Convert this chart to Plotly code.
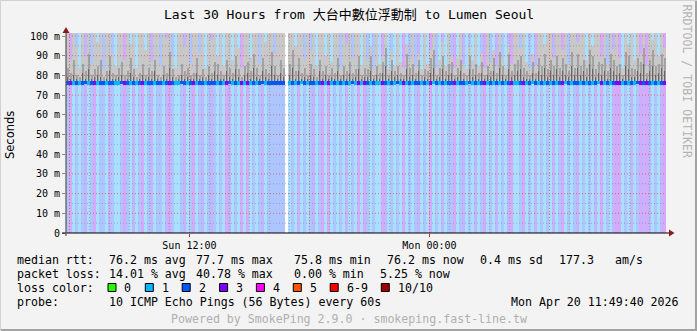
import plotly.graph_objects as go
from datetime import datetime

# ---------------- data ----------------
title_text = "Last 30 Hours from 大台中數位浮動制 to Lumen Seoul"
t_start = datetime(2026, 4, 19, 5, 49, 40)
t_end = datetime(2026, 4, 20, 11, 49, 40)

# packet loss class per 9-minute column (0 = no data)
loss_codes = [int(c) for c in (
    "2412123124" "1221321124" "2131241231" "2213421123" "1241231232"
    "1214312141" "4121231222" "2220121312" "1231241412" "1213121414"
    "2121143121" "2141212312" "1412131224" "1231213124" "1213121341"
    "1241213121" "2131241212" "3121213141" "2134412131" "2434312134")]

median_ms = [
    76.2, 76.1, 76.3, 76.2, 76.0, 76.2, 76.4, 76.2, 76.1, 76.3,
    76.2, 76.2, 76.0, 76.1, 76.3, 76.2, 76.1, 76.2, 76.4, 76.2,
    76.1, 76.2, 76.3, 76.0, 76.2, 76.2, 76.1, 76.3, 76.2, 76.1,
    76.2, 76.0, 76.2, 76.3, 76.2, 76.1, 76.2, 76.2, 76.4, 76.1,
    76.2, 76.3, 76.1, 76.2, 76.0, 76.2, 76.2, 76.3, 76.1, 76.2,
    76.3, 76.2, 76.1, 76.2, 76.4, 76.2, 76.1, 76.3, 76.2, 76.0,
    76.2, 76.1, 76.3, 76.2, 76.2, 76.4, 76.1, 76.2, 76.3, 76.2,
    76.1, 76.2, 76.2, None, 76.3, 76.2, 76.1, 76.2, 76.4, 76.2,
    76.0, 76.2, 76.3, 76.1, 76.2, 76.2, 76.3, 76.1, 76.2, 76.0,
    76.2, 76.3, 76.2, 76.1, 76.2, 76.4, 76.2, 76.1, 76.3, 76.2,
    76.1, 76.2, 76.3, 76.2, 76.0, 76.2, 76.3, 76.1, 76.2, 76.2,
    76.4, 76.2, 76.1, 76.3, 76.2, 76.0, 76.2, 76.2, 76.3, 76.1,
    76.2, 76.2, 76.4, 76.1, 76.2, 76.3, 76.2, 76.0, 76.2, 76.1,
    76.3, 76.2, 76.2, 76.1, 76.4, 76.2, 76.0, 76.2, 76.3, 76.2,
    76.1, 76.2, 76.3, 76.2, 76.2, 76.0, 76.3, 76.2, 76.1, 76.2,
    76.2, 76.3, 76.1, 76.2, 76.2, 76.4, 76.1, 76.2, 76.3, 76.0,
    76.2, 76.2, 76.1, 76.3, 76.2, 76.2, 76.4, 76.1, 76.2, 76.3,
    76.2, 76.0, 76.2, 76.1, 76.3, 76.2, 76.2, 76.4, 76.1, 76.2,
    76.3, 76.2, 76.0, 76.2, 76.1, 76.2, 76.3, 76.2, 76.2, 76.1,
    76.4, 76.2, 76.1, 76.3, 76.2, 76.0, 76.2, 76.3, 76.2, 76.2,
]

smoke_max_ms = [
    102, 88, 102, 95, 84, 102, 90, 102, 86, 102,
    97, 102, 83, 102, 102, 91, 85, 102, 102, 88,
    102, 96, 102, 84, 102, 102, 93, 102, 87, 102,
    102, 85, 102, 99, 102, 90, 84, 102, 102, 95,
    102, 86, 102, 102, 92, 102, 84, 102, 98, 102,
    90, 102, 85, 102, 102, 88, 102, 94, 84, 102,
    102, 89, 102, 102, 86, 102, 97, 102, 102, 91,
    102, 102, 102, None, 102, 102, 95, 102, 102, 88,
    102, 93, 102, 85, 102, 102, 90, 102, 87, 102,
    102, 84, 102, 96, 102, 89, 102, 102, 85, 102,
    88, 95, 84, 102, 86, 90, 102, 83, 92, 85,
    102, 87, 84, 96, 89, 102, 85, 91, 83, 102,
    86, 93, 102, 84, 88, 97, 85, 102, 90, 84,
    89, 102, 86, 83, 95, 88, 102, 85, 91, 84,
    102, 87, 93, 85, 102, 89, 84, 96, 86, 102,
    102, 94, 102, 87, 84, 91, 85, 102, 102, 96,
    102, 102, 89, 102, 102, 93, 102, 86, 102, 102,
    97, 102, 102, 88, 102, 95, 102, 102, 90, 102,
    86, 102, 93, 102, 89, 84, 102, 96, 102, 88,
    102, 91, 102, 85, 102, 98, 102, 90, 102, 94,
]

smoke_mid_ms = [
    84, 81, 88, 80, 79, 86, 82, 91, 80, 83,
    85, 88, 79, 82, 90, 81, 80, 84, 87, 80,
    82, 89, 83, 79, 81, 86, 80, 84, 82, 88,
    80, 79, 85, 81, 92, 83, 79, 80, 86, 82,
    84, 80, 81, 89, 80, 83, 79, 85, 81, 87,
    86, 82, 80, 88, 84, 81, 90, 83, 79, 85,
    87, 82, 91, 84, 80, 89, 83, 81, 92, 85,
    80, 88, 84, None, 86, 93, 82, 89, 81, 84,
    80, 86, 83, 79, 88, 82, 85, 80, 84, 81,
    89, 80, 85, 82, 87, 81, 83, 90, 80, 84,
    83, 90, 80, 85, 81, 87, 94, 80, 88, 82,
    85, 81, 80, 91, 84, 86, 81, 88, 80, 83,
    82, 89, 93, 80, 84, 90, 82, 86, 87, 80,
    84, 88, 81, 80, 90, 83, 86, 81, 87, 80,
    85, 82, 89, 81, 92, 85, 80, 91, 82, 86,
    88, 90, 84, 82, 80, 87, 81, 89, 85, 91,
    83, 88, 85, 90, 84, 89, 86, 82, 92, 84,
    91, 85, 88, 84, 93, 90, 83, 87, 86, 89,
    82, 91, 88, 85, 86, 80, 92, 90, 84, 83,
    89, 87, 94, 81, 88, 93, 85, 86, 91, 89,
]

smoke_dark_ms = [
    79, 78, 80, 78, 77, 81, 78, 83, 78, 79,
    80, 79, 77, 78, 82, 78, 78, 79, 80, 77,
    78, 81, 79, 77, 78, 80, 78, 79, 78, 82,
    78, 77, 80, 78, 84, 79, 77, 78, 80, 78,
    79, 78, 78, 81, 78, 79, 77, 80, 78, 82,
    80, 78, 78, 82, 79, 78, 83, 79, 77, 80,
    81, 78, 84, 79, 78, 82, 79, 78, 85, 80,
    78, 81, 79, None, 80, 84, 78, 82, 78, 79,
    78, 80, 79, 77, 82, 78, 80, 78, 79, 78,
    82, 78, 80, 78, 81, 78, 79, 83, 78, 79,
    79, 82, 78, 80, 78, 81, 85, 78, 82, 79,
    80, 78, 78, 83, 79, 80, 78, 82, 77, 79,
    78, 81, 84, 78, 79, 83, 78, 80, 81, 78,
    79, 82, 78, 77, 83, 79, 80, 78, 81, 78,
    80, 79, 82, 78, 84, 80, 78, 83, 79, 80,
    82, 83, 79, 78, 78, 81, 78, 82, 80, 84,
    79, 82, 80, 83, 79, 82, 80, 79, 85, 80,
    84, 80, 82, 79, 86, 83, 79, 81, 80, 82,
    78, 84, 82, 80, 81, 78, 85, 83, 79, 79,
    82, 81, 86, 78, 82, 85, 80, 81, 84, 82,
]

y_tick_vals = [0, 10, 20, 30, 40, 50, 60, 70, 80, 90, 100]
y_tick_text = ["0", "10 m", "20 m", "30 m", "40 m", "50 m", "60 m", "70 m", "80 m", "90 m", "100 m"]
x_tick_vals = [datetime(2026, 4, 19, 12, 0), datetime(2026, 4, 20, 0, 0)]
x_tick_text = ["Sun 12:00", "Mon 00:00"]

loss_labels = ["0", "1", "2", "3", "4", "5", "6-9", "10/10"]
loss_colors = ["#26ff00", "#00b8ff", "#0059ff", "#7e00ff", "#ff00ff", "#ff5500", "#ff0000", "#a10000"]
loss_bg_colors = {0: "#ffffff", 1: "#a9e0ff", 2: "#adc6ff", 3: "#c4b4ff", 4: "#d6aafa"}
median_colors = {0: "#ffffff", 1: "#00b8ff", 2: "#0059ff", 3: "#0059ff", 4: "#7e00ff"}

stats_line1 = [("median rtt:", 16), ("76.2 ms avg", 107.6), ("77.7 ms max", 194.7),
               ("75.8 ms min", 293.3), ("76.2 ms now", 385.8), ("0.4 ms sd", 479.1),
               ("177.3", 557.8), ("am/s", 614.2)]
stats_line2 = [("packet loss:", 16), ("14.01 % avg", 107.6), ("40.78 % max", 194.7),
               ("0.00 % min", 293.3), ("5.25 % now", 379.1)]
probe_text = "10 ICMP Echo Pings (56 Bytes) every 60s"
date_text = "Mon Apr 20 11:49:40 2026"
footer_text = "Powered by SmokePing 2.9.0 · smokeping.fast-line.tw"
side_text = "RRDTOOL / TOBI OETIKER"

# ---------------- layout constants ----------------
W, H = 697, 331
PL, PR, PT, PB = 66, 666, 33, 233
Y_MAX = (PB - PT) / 1.97
MONO = "DejaVu Sans Mono, Liberation Mono, monospace"


def px(x):
    return (x - PL) / (PR - PL)


def py(y):
    return (PB - y) / (PB - PT)


n = len(loss_codes)
step = (t_end - t_start) / n
x_mid = [t_start + step * (i + 0.5) for i in range(n)]
bar_w = step.total_seconds() * 1000

fig = go.Figure()

# loss background
fig.add_trace(go.Bar(x=x_mid, y=[Y_MAX + 2] * n, base=0, width=bar_w,
                     marker=dict(color=[loss_bg_colors[c] for c in loss_codes], line=dict(width=0)),
                     hoverinfo="skip"))


def band(top, color, wfrac):
    ys = [None if (t is None or m is None) else t - m for t, m in zip(top, median_ms)]
    fig.add_trace(go.Bar(x=x_mid, y=ys, base=median_ms, width=bar_w * wfrac,
                         marker=dict(color=color, line=dict(width=0)), hoverinfo="skip"))


band(smoke_max_ms, "#c8c8c8", 1.0)
band(smoke_mid_ms, "#a2a2a2", 2 / 3)
band(smoke_dark_ms, "#666666", 1 / 3)

# median line, colored by loss
fig.add_trace(go.Bar(x=x_mid, y=[None if m is None else 2.0 for m in median_ms],
                     base=[None if m is None else m - 1.0 for m in median_ms], width=bar_w,
                     marker=dict(color=[median_colors[c] for c in loss_codes], line=dict(width=0)),
                     hoverinfo="skip"))

shapes = []
# horizontal grid (above data)
for v in range(5, 101, 5):
    shapes.append(dict(type="line", xref="paper", yref="y", x0=0, x1=1, y0=v, y1=v, layer="above",
                       line=dict(color="rgba(225,70,70,0.7)" if v % 10 == 0 else "rgba(130,130,130,0.55)",
                                 width=1, dash="1px,2px")))
# vertical grid each hour
for k in range(30):
    t = datetime(2026, 4, 19, 6) + (datetime(2026, 4, 19, 7) - datetime(2026, 4, 19, 6)) * k
    shapes.append(dict(type="line", xref="x", yref="paper", x0=t, x1=t, y0=0, y1=1, layer="above",
                       line=dict(color="rgba(225,70,70,0.7)" if t.hour % 6 == 0 else "rgba(130,130,130,0.55)",
                                 width=1, dash="1px,2px")))
# axes lines and arrows
shapes.append(dict(type="line", xref="paper", yref="paper", x0=px(62), x1=px(669), y0=py(233), y1=py(233),
                   layer="above", line=dict(color="#000000", width=1.2)))
shapes.append(dict(type="line", xref="paper", yref="paper", x0=px(66), x1=px(66), y0=py(236), y1=py(31),
                   layer="above", line=dict(color="#555555", width=1.2)))
shapes.append(dict(type="path", xref="paper", yref="paper", layer="above",
                   path=f"M {px(669)} {py(229.5)} L {px(674.5)} {py(233)} L {px(669)} {py(236.5)} Z",
                   fillcolor="#8e1a1a", line=dict(width=0)))
shapes.append(dict(type="path", xref="paper", yref="paper", layer="above",
                   path=f"M {px(62.5)} {py(33)} L {px(66)} {py(27)} L {px(69.5)} {py(33)} Z",
                   fillcolor="#8e1a1a", line=dict(width=0)))
# frame of the image
shapes.append(dict(type="rect", xref="paper", yref="paper", x0=px(695), x1=px(697), y0=py(0), y1=py(331),
                   fillcolor="#a3a3a3", line=dict(width=0), layer="above"))
shapes.append(dict(type="rect", xref="paper", yref="paper", x0=px(0), x1=px(697), y0=py(329), y1=py(331),
                   fillcolor="#a3a3a3", line=dict(width=0), layer="above"))
shapes.append(dict(type="rect", xref="paper", yref="paper", x0=px(0), x1=px(1), y0=py(0), y1=py(331),
                   fillcolor="#d2d2d2", line=dict(width=0), layer="above"))
shapes.append(dict(type="rect", xref="paper", yref="paper", x0=px(0), x1=px(697), y0=py(0), y1=py(1),
                   fillcolor="#d2d2d2", line=dict(width=0), layer="above"))

ann = []
TXT = dict(family=MONO, size=11.6, color="#000000")


def text(s, x, y, xanchor="left", font=None, **kw):
    ann.append(dict(text=s, x=px(x), y=py(y), xref="paper", yref="paper", showarrow=False,
                    xanchor=xanchor, yanchor="middle", font=font or TXT, borderpad=0, **kw))


text(title_text, 348.5, 14, "center", dict(family=MONO + ", Noto Sans CJK TC", size=13, color="#000"))
text("Seconds", 10, 135, "center", dict(family="DejaVu Sans, sans-serif", size=11.5, color="#000"),
     textangle=-90)
text(side_text, 687, 81.5, "center", dict(family=MONO, size=11.6, color="#b3b3b3"), textangle=90)

for s, x in stats_line1:
    text(s, x, 259.5)
for s, x in stats_line2:
    text(s, x, 273.5)
text("loss color:", 16, 287.5)
box_x = [108, 145.3, 182.2, 219.6, 256.4, 293.3, 330.2, 381.3]
for lab, col, bx in zip(loss_labels, loss_colors, box_x):
    shapes.append(dict(type="rect", xref="paper", yref="paper", x0=px(bx), x1=px(bx + 8),
                       y0=py(291.5), y1=py(283.5), fillcolor=col, line=dict(color="#000", width=1)))
    text(lab, bx + 15.4, 287.5)
text("probe:", 16, 301.5)
text(probe_text, 107.6, 301.5)
text(date_text, 680, 301.5, "right")
text(footer_text, 348.5, 319, "center", dict(family=MONO, size=11.6, color="#b0b0b0"))

fig.update_layout(
    width=W, height=H, autosize=False,
    margin=dict(l=PL, r=W - PR, t=PT, b=H - PB, pad=0),
    paper_bgcolor="#f3f3f3", plot_bgcolor="#ffffff",
    barmode="overlay", bargap=0, showlegend=False,
    shapes=shapes, annotations=ann,
    xaxis=dict(type="date", range=[t_start, t_end], showgrid=False, zeroline=False, showline=False,
               tickvals=x_tick_vals, ticktext=x_tick_text, ticks="outside", ticklen=3,
               tickcolor="#c03030", tickfont=dict(family=MONO, size=10, color="#000")),
    yaxis=dict(range=[0, Y_MAX], showgrid=False, zeroline=False, showline=False,
               tickvals=y_tick_vals, ticktext=y_tick_text, ticks="outside", ticklen=3,
               tickcolor="#888888", tickfont=dict(family=MONO, size=10, color="#000")),
)

fig.write_html("out.html", config={"displayModeBar": False})
